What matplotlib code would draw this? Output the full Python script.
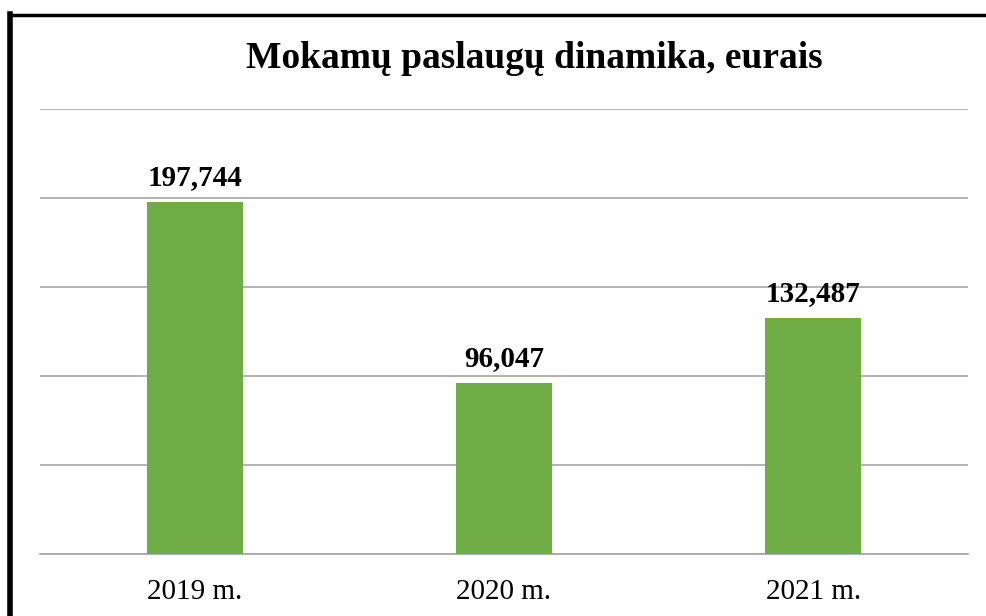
import matplotlib.pyplot as plt
from matplotlib.lines import Line2D
import numpy as np

years = ["2019 m.", "2020 m.", "2021 m."]
values = [197744, 96047, 132487]
title = "Mokamų paslaugų dinamika, eurais"

plt.rcParams["font.family"] = ["Liberation Serif", "DejaVu Serif"]

W, H = 987, 616
fig = plt.figure(figsize=(W / 100, H / 100), dpi=100)
ax = fig.add_axes([40 / W, 1 - 554 / H, 928 / W, 445 / H])

x = np.arange(len(years))
bars = ax.bar(x, values, width=0.31, color="#70AD47", zorder=3)
ax.set_xlim(-0.5, len(years) - 0.5)
ax.set_ylim(0, 250000)
ax.set_yticks(np.arange(0, 250001, 50000))
ax.set_yticklabels([])
ax.tick_params(axis="y", length=0)
ax.tick_params(axis="x", length=0, labelsize=21, pad=18)
ax.set_xticks(x)
ax.set_xticklabels(years)
ax.yaxis.grid(True, color="#A6A6A6", linewidth=1.2)
for side in ["top", "right", "left"]:
    ax.spines[side].set_visible(False)
ax.spines["bottom"].set_color("#A6A6A6")
ax.spines["bottom"].set_linewidth(1.2)

for xi, v in zip(x, values):
    ax.annotate(f"{v:,}", (xi, v), xytext=(0, 8), textcoords="offset points",
                ha="center", va="bottom", fontsize=21, fontweight="bold")

fig.text(534 / W, 1 - 58 / H, title, ha="center", va="center",
         fontsize=27, fontweight="bold")

# border (only left and top visible in the crop)
fig.add_artist(Line2D([10.5 / W, 10.5 / W], [0, 1 - 14 / H], color="black",
                      linewidth=4, transform=fig.transFigure, solid_capstyle="projecting"))
fig.add_artist(Line2D([10.5 / W, 1], [1 - 14.5 / H, 1 - 14.5 / H], color="black",
                      linewidth=2.5, transform=fig.transFigure))

fig.savefig("out.png", dpi=100)
